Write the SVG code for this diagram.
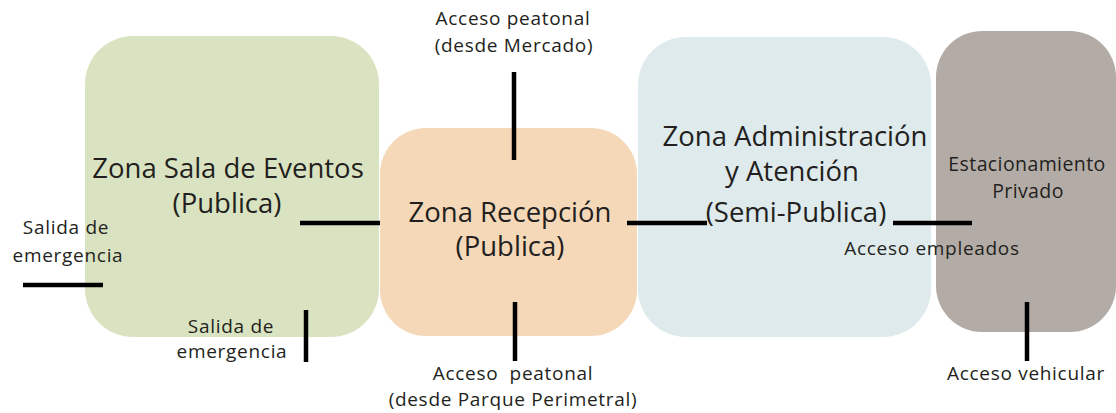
<svg xmlns="http://www.w3.org/2000/svg" width="1116" height="413" viewBox="0 0 1116 413">
<style>
text{font-family:"Open Sans","Liberation Sans",sans-serif;fill:#231f20;text-anchor:middle}
.big{font-size:27.5px}
.mid{font-size:19.5px;letter-spacing:0.4px}
.sm{font-size:19px;letter-spacing:0.7px}
.pre{white-space:pre}
.ln{stroke:#000;stroke-width:4.5;fill:none}
</style>
<rect width="1116" height="413" fill="#fff"/>
<g id="zona-sala">
<rect x="85" y="36" width="294" height="301" rx="48" fill="#dae3c1"/>
<text class="big" x="228" y="178">Zona Sala de Eventos</text>
<text class="big" x="227" y="213">(Publica)</text>
</g>
<g id="zona-recepcion">
<rect x="380" y="128" width="257" height="208" rx="46" fill="#f5d8b8"/>
<text class="big" x="510" y="222">Zona Recepción</text>
<text class="big" x="510" y="256">(Publica)</text>
</g>
<g id="zona-admin">
<rect x="638" y="37" width="293" height="300" rx="48" fill="#deeaec"/>
<text class="big" x="795" y="146">Zona Administración</text>
<text class="big" x="792" y="181">y Atención</text>
<text class="big" x="796" y="222">(Semi-Publica)</text>
</g>
<g id="estacionamiento">
<rect x="936" y="31" width="180" height="301" rx="46" fill="#b3aca6"/>
<text class="mid" x="1027" y="171">Estacionamiento</text>
<text class="mid" x="1028" y="198">Privado</text>
</g>
<g id="connectors">
<line class="ln" x1="514" y1="72" x2="514" y2="160"/>
<line class="ln" x1="300" y1="223" x2="380" y2="223"/>
<line class="ln" x1="627" y1="223" x2="707" y2="223"/>
<line class="ln" x1="893" y1="223" x2="972" y2="223"/>
<line class="ln" x1="515" y1="302" x2="515" y2="361"/>
<line class="ln" x1="23" y1="285" x2="103" y2="285"/>
<line class="ln" x1="306" y1="310" x2="306" y2="362"/>
<line class="ln" x1="1027" y1="302" x2="1027" y2="361"/>
</g>
<g id="labels">
<text class="sm" x="513" y="25">Acceso peatonal</text>
<text class="sm" x="514" y="52">(desde Mercado)</text>
<text class="sm pre" x="513" y="380">Acceso  peatonal</text>
<text class="sm" x="513" y="406">(desde Parque Perimetral)</text>
<text class="sm" x="66" y="234">Salida de</text>
<text class="sm" x="68" y="262">emergencia</text>
<text class="sm" x="231" y="333">Salida de</text>
<text class="sm" x="232" y="358">emergencia</text>
<text class="sm" x="932" y="255">Acceso empleados</text>
<text class="sm" x="1026" y="380">Acceso vehicular</text>
</g>
</svg>
